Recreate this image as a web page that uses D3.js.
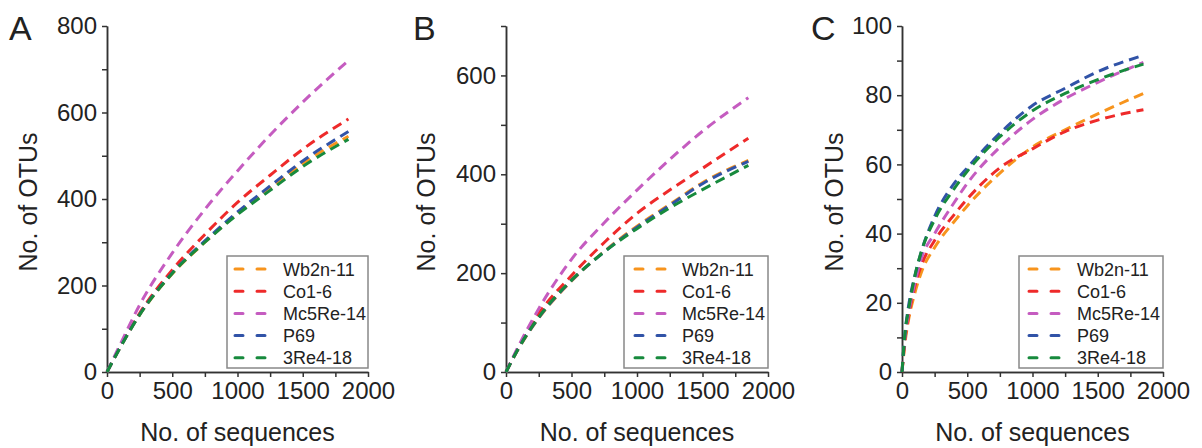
<!DOCTYPE html>
<html lang="en">
<head>
  <meta charset="utf-8">
  <script src="https://cdn.jsdelivr.net/npm/d3@7"></script>
  <style>
    body { margin: 0; background: #fff; }
    text { font-family: "Liberation Sans", Arial, sans-serif; fill: #222; }
    .axis path, .axis line { stroke: #333; stroke-width: 1.5; }
    .axis text { font-size: 24px; fill: #222; }
  </style>
</head>
<body>
  <script>
    // series names and colours (legend order)
    var seriesNames = ["Wb2n-11", "Co1-6", "Mc5Re-14", "P69", "3Re4-18"];
    var seriesColors = ["#f7941d", "#ee2a2a", "#c55cc0", "#3153a7", "#178a3d"];

    // panel A: sequences vs OTUs
    var seqA = [0, 100, 250, 500, 750, 1000, 1250, 1500, 1850];
    var wb2nA = [0, 56, 132, 227, 300, 366, 425, 482, 545];
    var co1A = [0, 58, 136, 236, 318, 392, 455, 515, 585];
    var mc5A = [0, 63, 155, 275, 376, 465, 548, 624, 720];
    var p69A = [0, 56, 133, 229, 303, 370, 430, 488, 556];
    var re4A = [0, 56, 132, 228, 300, 364, 420, 475, 538];

    // panel B
    var seqB = [0, 100, 250, 500, 750, 1000, 1250, 1500, 1850];
    var wb2nB = [0, 49, 109, 184, 244, 295, 339, 383, 428];
    var co1B = [0, 52, 118, 195, 262, 321, 368, 412, 473];
    var mc5B = [0, 55, 128, 228, 302, 368, 430, 487, 555];
    var p69B = [0, 50, 110, 185, 243, 293, 337, 381, 426];
    var re4B = [0, 50, 111, 186, 243, 290, 332, 369, 418];

    // panel C
    var seqC = [0, 25, 50, 100, 150, 250, 400, 500, 750, 1000, 1250, 1500, 1850];
    var wb2nC = [0, 9, 15, 23, 29, 36, 43.5, 48, 57.5, 65, 70, 74.6, 80.5];
    var co1C = [0, 10, 16, 25, 31, 38, 45.5, 50, 59, 64.5, 69.5, 72.8, 75.8];
    var mc5C = [0, 11, 17, 26, 33, 40, 49, 54.5, 65, 73, 79, 83.7, 89.5];
    var p69C = [0, 12, 19, 28, 35, 45, 54.5, 59, 69, 77, 82, 86.8, 91.5];
    var re4C = [0, 12, 18, 28, 35, 44, 53, 58, 68, 75.5, 80.5, 84.5, 89];

    // axis ticks
    var xTicks = [0, 500, 1000, 1500, 2000];
    var xMinor = [250, 750, 1250, 1750];
    var yTicksA = [0, 200, 400, 600, 800];
    var yTicksB = [0, 200, 400, 600];
    var yTicksC = [0, 20, 40, 60, 80, 100];

    var svg = d3.select("body")
      .append("svg")
      .attr("width", 1202)
      .attr("height", 448);

    var panels = [
      { label: "A", left: 107, right: 368, yMax: 800, yTicks: yTicksA, yStep: 100,
        seq: seqA, values: [wb2nA, co1A, mc5A, p69A, re4A],
        titleX: 37, legendX: 227, sampleX: 235, textX: 283, labelX: 9 },
      { label: "B", left: 506, right: 768, yMax: 700, yTicks: yTicksB, yStep: 100,
        seq: seqB, values: [wb2nB, co1B, mc5B, p69B, re4B],
        titleX: 435, legendX: 624, sampleX: 635, textX: 682, labelX: 413 },
      { label: "C", left: 902, right: 1163, yMax: 100, yTicks: yTicksC, yStep: 10,
        seq: seqC, values: [wb2nC, co1C, mc5C, p69C, re4C],
        titleX: 843, legendX: 1019, sampleX: 1029, textX: 1077, labelX: 811 }
    ];

    var plotTop = 26, plotBottom = 372;

    panels.forEach(function(p) {
      var g = svg.append("g");

      var x = d3.scaleLinear().domain([0, 2000]).range([p.left, p.right]);
      var y = d3.scaleLinear().domain([0, p.yMax]).range([plotBottom, plotTop]);

      var yMinor = d3.range(0, p.yMax + 1, p.yStep)
        .filter(function(v) { return p.yTicks.indexOf(v) < 0; });

      // minor ticks first, then major axes on top
      g.append("g")
        .attr("class", "axis")
        .attr("transform", "translate(0," + plotBottom + ")")
        .call(d3.axisBottom(x).tickValues(xMinor).tickSize(5).tickSizeOuter(0).tickFormat(""));
      g.append("g")
        .attr("class", "axis")
        .attr("transform", "translate(" + p.left + ",0)")
        .call(d3.axisLeft(y).tickValues(yMinor).tickSize(5).tickSizeOuter(0).tickFormat(""));

      g.append("g")
        .attr("class", "axis")
        .attr("transform", "translate(0," + plotBottom + ")")
        .call(d3.axisBottom(x).tickValues(xTicks).tickSize(5).tickSizeOuter(0)
          .tickPadding(5).tickFormat(d3.format("d")));
      g.append("g")
        .attr("class", "axis")
        .attr("transform", "translate(" + p.left + ",0)")
        .call(d3.axisLeft(y).tickValues(p.yTicks).tickSize(5).tickSizeOuter(0)
          .tickPadding(5).tickFormat(d3.format("d")));

      // rarefaction curves
      var line = d3.line()
        .x(function(d, i) { return x(p.seq[i]); })
        .y(function(d) { return y(d); })
        .curve(d3.curveMonotoneX);

      p.values.forEach(function(vals, k) {
        g.append("path")
          .datum(vals)
          .attr("d", line)
          .attr("fill", "none")
          .attr("stroke", seriesColors[k])
          .attr("stroke-width", 3)
          .attr("stroke-dasharray", "10,6");
      });

      // legend
      g.append("rect")
        .attr("x", p.legendX)
        .attr("y", 256)
        .attr("width", p.right - p.legendX)
        .attr("height", 112)
        .attr("fill", "#fff")
        .attr("stroke", "#888")
        .attr("stroke-width", 1.5);

      seriesNames.forEach(function(name, k) {
        var ly = 269 + k * 22.2;
        g.append("line")
          .attr("x1", p.sampleX)
          .attr("x2", p.sampleX + 32)
          .attr("y1", ly)
          .attr("y2", ly)
          .attr("stroke", seriesColors[k])
          .attr("stroke-width", 3)
          .attr("stroke-linecap", "round")
          .attr("stroke-dasharray", "8,14");
        g.append("text")
          .attr("x", p.textX)
          .attr("y", ly + 6.5)
          .style("font-size", "18px")
          .text(name);
      });

      // axis titles
      g.append("text")
        .attr("x", (p.left + p.right) / 2)
        .attr("y", 441)
        .attr("text-anchor", "middle")
        .style("font-size", "25px")
        .text("No. of sequences");

      g.append("text")
        .attr("transform", "translate(" + p.titleX + "," + 202 + ") rotate(-90)")
        .attr("text-anchor", "middle")
        .style("font-size", "25px")
        .text("No. of OTUs");

      // panel label
      g.append("text")
        .attr("x", p.labelX)
        .attr("y", 40)
        .style("font-size", "34px")
        .text(p.label);
    });
  </script>
</body>
</html>
